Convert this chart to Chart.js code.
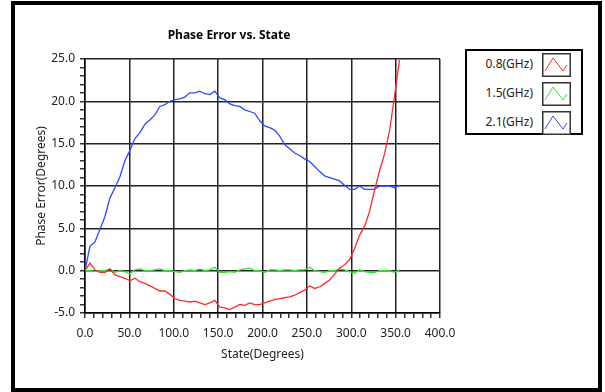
<!DOCTYPE html>
<html>
<head>
<meta charset="utf-8">
<script src="https://cdn.jsdelivr.net/npm/chart.js@4/dist/chart.umd.min.js"></script>
<style>
  html, body { margin: 0; padding: 0; background: #fff; }
  #wrap { position: relative; width: 605px; height: 392px; overflow: hidden; font-family: "Noto Sans", sans-serif; }
  #frame { position: absolute; left: 11px; top: 1px; width: 591px; height: 391px; box-sizing: border-box; border: 4px solid #000; pointer-events: none; }
  #c { position: absolute; left: 0; top: 0; }
  #legend { position: absolute; left: 465px; top: 49px; width: 118px; height: 86px; box-sizing: border-box; border: 2px solid #000; background: #fff; }
  .row { position: absolute; left: 0; width: 114px; height: 24px; }
  .row span { position: absolute; right: 48px; top: 3px; font-size: 12px; color: #222; line-height: 16px; }
  .row svg { position: absolute; left: 75px; top: 0; }
</style>
</head>
<body>
<div id="wrap">
  <canvas id="c" width="605" height="392"></canvas>
  <div id="legend"></div>
  <div id="frame"></div>
</div>
<script>
// ---- data ----
const states = [0, 5.625, 11.25, 16.875, 22.5, 28.125, 33.75, 39.375, 45, 50.625, 56.25, 61.875, 67.5, 73.125, 78.75, 84.375,
  90, 95.625, 101.25, 106.875, 112.5, 118.125, 123.75, 129.375, 135, 140.625, 146.25, 151.875, 157.5, 163.125, 168.75, 174.375,
  180, 185.625, 191.25, 196.875, 202.5, 208.125, 213.75, 219.375, 225, 230.625, 236.25, 241.875, 247.5, 253.125, 258.75, 264.375,
  270, 275.625, 281.25, 286.875, 292.5, 298.125, 303.75, 309.375, 315, 320.625, 326.25, 331.875, 337.5, 343.125, 348.75, 354.375];

const err08 = [0, 0.9, 0.1, -0.2, -0.2, 0.2, -0.5, -0.7, -0.9, -1.2, -0.9, -1.3, -1.5, -1.8, -2.1, -2.4,
  -2.4, -2.8, -3.3, -3.5, -3.6, -3.7, -3.6, -3.8, -4.0, -3.8, -3.5, -4.3, -4.4, -4.6, -4.3, -4.0,
  -4.1, -3.8, -4.0, -4.0, -3.8, -3.6, -3.4, -3.3, -3.2, -3.1, -2.9, -2.6, -2.3, -1.8, -2.1, -1.9,
  -1.5, -1.1, -0.4, 0.3, 0.7, 1.3, 2.6, 4.2, 5.2, 7.0, 9.5, 11.8, 13.8, 16.5, 20.6, 24.9];

const err15 = [0, 0, -0.1, 0, 0, 0.2, -0.2, 0, -0.1, -0.4, 0.1, 0.2, 0, 0, 0.1, 0.2,
  0, 0, -0.1, -0.2, 0, 0.1, 0, 0.2, 0, 0.1, 0.4, -0.2, -0.2, -0.1, -0.2, 0.1,
  0.2, 0.3, 0, 0, -0.2, 0.1, 0.1, 0, 0.1, 0.1, 0, 0.1, 0.1, 0.4, 0, -0.1,
  -0.2, 0, 0, 0.2, 0.1, -0.1, -0.3, 0.1, -0.1, -0.2, -0.2, 0, 0, 0, -0.2, 0.1];

const err21 = [0, 2.9, 3.4, 4.9, 6.4, 8.6, 9.8, 11.1, 13.0, 14.2, 15.6, 16.3, 17.3, 17.8, 18.4, 19.4,
  19.6, 20.0, 20.2, 20.3, 20.5, 21.0, 21.0, 21.2, 20.9, 20.8, 21.2, 20.4, 20.2, 19.7, 19.5, 19.4,
  19.0, 18.8, 18.6, 17.7, 17.1, 16.9, 16.6, 15.9, 14.9, 14.4, 13.9, 13.6, 13.2, 12.9, 12.3, 11.7,
  11.2, 11.0, 10.8, 10.6, 10.1, 9.6, 9.6, 10.0, 9.6, 9.6, 9.6, 10.0, 10.0, 10.0, 9.8, 10.1];

const seriesNames = ['0.8(GHz)', '1.5(GHz)', '2.1(GHz)'];
const seriesColors = ['#ff2b2b', '#2ee62e', '#2b4bff'];
const seriesValues = [err08, err15, err21];

const titleText = 'Phase Error vs. State';
const xTitle = 'State(Degrees)';
const yTitle = 'Phase Error(Degrees)';
const xMin = 0, xMax = 400, xMajor = 50, xMinor = 10;
const yMin = -5, yMax = 25, yMajor = 5, yMinor = 1;

// ---- legend (HTML) ----
const legend = document.getElementById('legend');
seriesNames.forEach((name, i) => {
  const row = document.createElement('div');
  row.className = 'row';
  row.style.top = (2 + i * 29) + 'px';
  row.innerHTML = '<span>' + name + '</span>' +
    '<svg width="29" height="24"><rect x="0.75" y="0.75" width="27.5" height="22.5" fill="#fff" stroke="#333" stroke-width="1.5"/>' +
    '<polyline points="3,18 11,5 21,18 25,12" fill="none" stroke="' + seriesColors[i] + '" stroke-width="1"/></svg>';
  legend.appendChild(row);
});

// ---- chart ----
const font = { family: '"Noto Sans", sans-serif', size: 12 };
const gridCol = '#222';
new Chart(document.getElementById('c'), {
  type: 'line',
  data: {
    datasets: seriesValues.map((vals, i) => ({
      label: seriesNames[i],
      data: states.map((s, k) => ({ x: s, y: vals[k] })),
      borderColor: seriesColors[i],
      borderWidth: 1.3,
      pointRadius: 0,
      tension: 0,
      fill: false
    }))
  },
  options: {
    responsive: false,
    animation: false,
    devicePixelRatio: 1,
    layout: { padding: { left: 18, right: 165, top: 0, bottom: 0 } },
    plugins: {
      legend: { display: false },
      tooltip: { enabled: false },
      title: {
        display: true, text: titleText, color: '#000',
        font: { family: font.family, size: 12, weight: 'bold' },
        padding: { top: 28, bottom: 16.6 }
      }
    },
    scales: {
      x: {
        type: 'linear', min: xMin, max: xMax,
        afterFit: s => { s.height = 79; },
        ticks: {
          stepSize: xMinor, autoSkip: false, maxRotation: 0, padding: 8, color: '#222', font,
          callback: v => (Math.round(v) % xMajor === 0 ? v.toFixed(1) : '')
        },
        grid: {
          color: ctx => (ctx.tick && Math.round(ctx.tick.value) % xMajor === 0 ? gridCol : 'rgba(0,0,0,0)'),
          tickColor: '#333', lineWidth: 1.5, tickLength: 5, drawTicks: true
        },
        border: { display: true, color: '#000', width: 1.5 },
        title: { display: true, text: xTitle, color: '#222', font, padding: { top: 4, bottom: 30 } }
      },
      y: {
        type: 'linear', min: yMin, max: yMax,
        afterFit: s => { s.width = 67; },
        ticks: {
          stepSize: yMinor, autoSkip: false, padding: 5, color: '#222', font,
          callback: v => (Math.round(v) % yMajor === 0 ? v.toFixed(1) : '')
        },
        grid: {
          color: ctx => (ctx.tick && Math.round(ctx.tick.value) % yMajor === 0 ? gridCol : 'rgba(0,0,0,0)'),
          tickColor: '#333', lineWidth: 1.5, tickLength: 5, drawTicks: true
        },
        border: { display: true, color: '#000', width: 1.5 },
        title: { display: true, text: yTitle, color: '#222', font, padding: { top: 16, bottom: 0 } }
      }
    }
  }
});
</script>
</body>
</html>
